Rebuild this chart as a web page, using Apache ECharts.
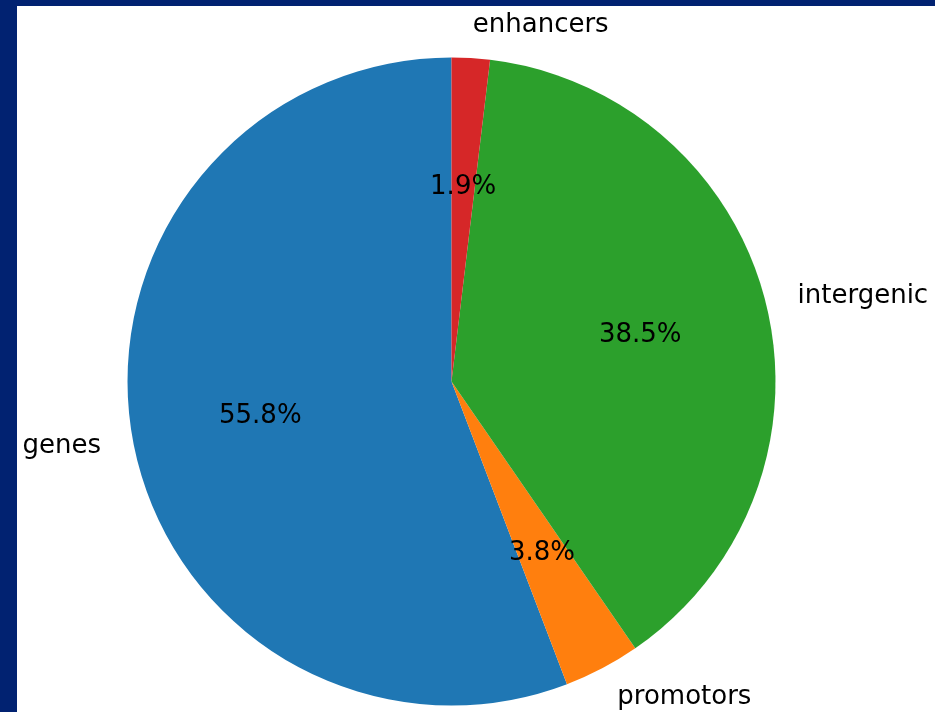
<!DOCTYPE html>
<html>
<head>
<meta charset="utf-8">
<script src="https://cdn.jsdelivr.net/npm/echarts@6/dist/echarts.min.js"></script>
<style>
  html, body { margin: 0; padding: 0; width: 935px; height: 712px; background: #012271; overflow: hidden; }
  #chart { position: absolute; left: 17px; top: 6px; width: 918px; height: 706px; background: #ffffff; }
</style>
</head>
<body>
<div id="chart"></div>
<script>
// Share of regions by genomic annotation (percent)
const categories = ['genes', 'promotors', 'intergenic', 'enhancers'];
const shares = [55.8, 3.8, 38.5, 1.9];
const colors = ['#1f77b4', '#ff7f0e', '#2ca02c', '#d62728'];

const R = 324;                 // pie radius in px
const CENTER = [434.5, 375.5];  // pie centre inside the chart box
const FONT = 'DejaVu Sans';
const FONT_SIZE = 26;

const pieData = categories.map((name, i) => ({
  name: name,
  value: shares[i],
  itemStyle: { color: colors[i] }
}));

const chart = echarts.init(document.getElementById('chart'), null, { renderer: 'canvas' });

chart.setOption({
  animation: false,
  backgroundColor: '#ffffff',
  series: [
    {
      // coloured wedges with category names just outside the rim
      type: 'pie',
      center: CENTER,
      radius: [0, R],
      startAngle: 90,
      clockwise: false,
      avoidLabelOverlap: false,
      silent: true,
      itemStyle: { borderWidth: 0 },
      label: {
        show: true,
        position: 'outside',
        formatter: '{b}',
        color: '#000',
        fontFamily: FONT,
        fontSize: FONT_SIZE,
        distanceToLabelLine: 0
      },
      labelLine: { show: false, length: R * 0.1, length2: 0 },
      emphasis: { disabled: true },
      data: pieData
    },
    {
      // transparent ring that carries the percentage labels at 0.6 R
      type: 'pie',
      center: CENTER,
      radius: [R * 0.2 - 6, R],
      startAngle: 90,
      clockwise: false,
      avoidLabelOverlap: false,
      silent: true,
      itemStyle: { color: 'rgba(0,0,0,0)', borderWidth: 0 },
      label: {
        show: true,
        position: 'inside',
        formatter: p => p.value.toFixed(1) + '%',
        color: '#000',
        fontFamily: FONT,
        fontSize: FONT_SIZE
      },
      labelLine: { show: false },
      emphasis: { disabled: true },
      data: categories.map((name, i) => ({ name: name, value: shares[i] }))
    }
  ]
});
</script>
</body>
</html>
